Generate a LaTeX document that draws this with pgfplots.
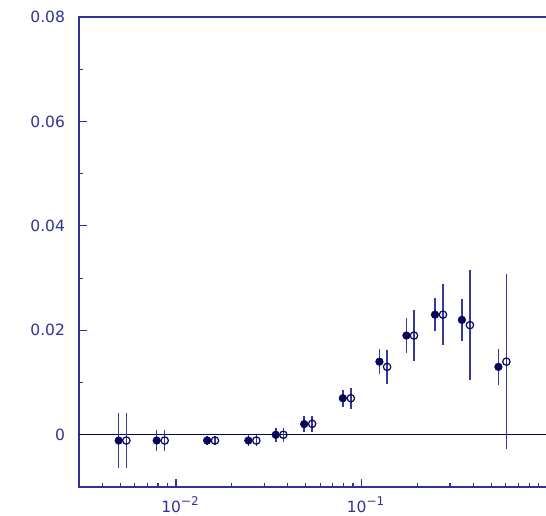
\documentclass[border=0pt]{standalone}
\usepackage{pgfplots}
\pgfplotsset{compat=1.18}
\usepackage{pgfplotstable}
\usepackage{fontspec}
\setmainfont{DejaVu Sans}
\definecolor{axc}{RGB}{50,50,150}
\definecolor{mkc}{RGB}{5,5,90}
\definecolor{erc}{RGB}{55,55,160}
\newcommand{\lab}[1]{\fontsize{15.5}{17}\selectfont 10\raisebox{7pt}{\fontsize{12}{13}\selectfont −#1}}
\pgfplotstableread{
x y e
0.00491 -0.0011 0.0053
0.00787 -0.0011 0.0021
0.01472 -0.0011 0.0008
0.02455 -0.0011 0.0011
0.0345 0.0 0.0013
0.0491 0.00205 0.0015
0.0793 0.0070 0.0016
0.1249 0.0140 0.0024
0.1746 0.0190 0.0033
0.2489 0.0230 0.0031
0.3477 0.0220 0.0040
0.547 0.0130 0.0034
}\filled
\pgfplotstableread{
x y e
0.0054 -0.0011 0.0053
0.00869 -0.0011 0.0021
0.01622 -0.0011 0.0008
0.0271 -0.0011 0.0011
0.0379 0.0 0.0013
0.0542 0.0021 0.0015
0.0876 0.0070 0.0020
0.1374 0.0130 0.0032
0.1918 0.0190 0.0049
0.2748 0.0230 0.0058
0.3841 0.0210 0.0105
0.604 0.0140 0.0168
}\open
\begin{document}
\begin{tikzpicture}
\path[use as bounding box] (-79pt,-29pt) rectangle (467pt,487pt);
\begin{axis}[
  at={(0,0)}, anchor=south west,
  scale only axis, width=471.2pt, height=470pt,
  xmode=log, xmin=0.003, xmax=1.04,
  ymin=-0.01, ymax=0.08,
  scaled y ticks=false,
  axis line style={draw=axc, line width=1.4pt},
  tick style={draw=axc, line width=1.1pt},
  tick align=inside, tick pos=left,
  major tick length=8pt, minor tick length=4pt,
  xtick={0.01,0.1},
  xticklabels={\lab{2},\lab{1}},
  minor xtick={0.003,0.004,0.005,0.006,0.007,0.008,0.009,0.02,0.03,0.04,0.05,0.06,0.07,0.08,0.09,0.2,0.3,0.4,0.5,0.6,0.7,0.8,0.9},
  ytick={0,0.02,0.04,0.06,0.08},
  yticklabels={0,0.02,0.04,0.06,0.08},
  minor ytick={0.01,0.03,0.05,0.07},
  every tick label/.append style={font=\fontsize{15.5}{17}\selectfont, text=axc},
  yticklabel style={xshift=-10.5pt},
  xticklabel style={yshift=-6pt, xshift=4pt},
  clip=false,
]
\addplot[draw=mkc, line width=0.9pt, forget plot] coordinates {(0.003,0) (1.04,0)};
\addplot[only marks, mark=*, mark size=3.8pt, mark options={fill=mkc, draw=mkc, line width=0.6pt},
  error bars/.cd, y dir=both, y explicit, error mark=none,
  error bar style={draw=erc, line width=1.6pt}]
  table[x=x, y=y, y error=e] {\filled};
\addplot[only marks, mark=o, mark size=3.7pt, mark options={fill=white, draw=mkc, line width=1.2pt},
  error bars/.cd, y dir=both, y explicit, error mark=none,
  error bar style={draw=erc, line width=1.6pt}]
  table[x=x, y=y, y error=e] {\open};
\end{axis}
\end{tikzpicture}
\end{document}
